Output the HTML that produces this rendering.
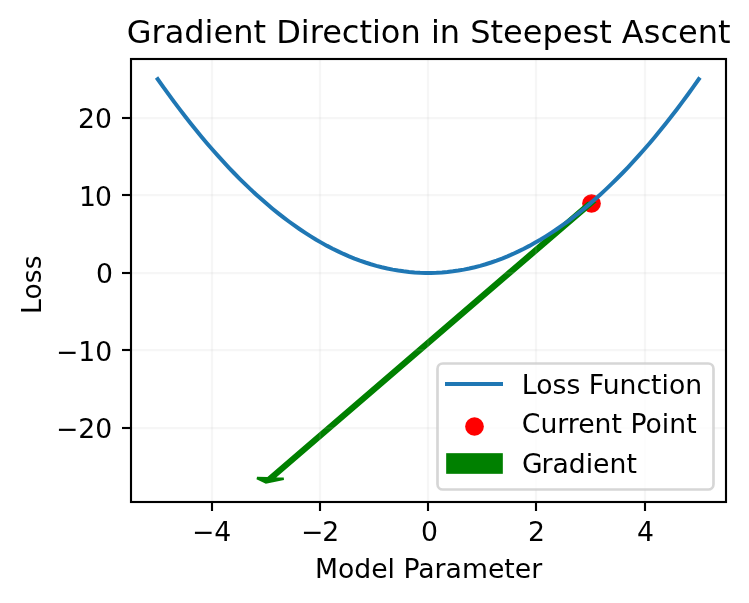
<!DOCTYPE html>
<html lang="en">
<head>
<meta charset="utf-8">
<title>Gradient Direction in Steepest Ascent</title>
<style>
  html, body { margin: 0; padding: 0; background: #ffffff; }
  body { width: 749px; height: 603px; overflow: hidden; }
  /* own compositing layer => grayscale (non-LCD) text antialiasing, like the Agg raster */
  svg { display: block; will-change: transform; mix-blend-mode: multiply; }
  svg text { font-family:'DejaVu Sans','Liberation Sans',sans-serif; }
</style>
</head>
<body>
<svg width="749" height="603" viewBox="0 0 749 603">
<rect x="0" y="0" width="749" height="603" fill="#ffffff"/>
<!-- current point -->
<circle cx="591.5" cy="203.5" r="9.33" fill="#ff0000"/>
<!-- gradient arrow -->
<polygon points="265.93,482.31 257.04,478.16 267.71,478.42 587.92,203.1 593.25,203.23 273.05,478.55 283.72,478.8" fill="#008000" stroke="#008000" stroke-width="2.67" stroke-linejoin="miter"/>
<!-- x axis: grid, ticks, labels -->
<line x1="212" y1="502" x2="212" y2="59" stroke="#b0b0b0" stroke-opacity="0.115" stroke-width="2.25"/>
<line x1="212" y1="502" x2="212" y2="511" stroke="#000000" stroke-width="2.13"/>
<text x="211.57" y="541" font-size="26.67" text-anchor="middle" fill="#000000">−4</text>
<line x1="320" y1="502" x2="320" y2="59" stroke="#b0b0b0" stroke-opacity="0.115" stroke-width="2.25"/>
<line x1="320" y1="502" x2="320" y2="511" stroke="#000000" stroke-width="2.13"/>
<text x="319.54" y="541" dx="0.5 -1" font-size="26.67" text-anchor="middle" fill="#000000">−2</text>
<line x1="428" y1="502" x2="428" y2="59" stroke="#b0b0b0" stroke-opacity="0.115" stroke-width="2.25"/>
<line x1="428" y1="502" x2="428" y2="511" stroke="#000000" stroke-width="2.13"/>
<text x="429.38" y="541" font-size="26.67" text-anchor="middle" fill="#000000">0</text>
<line x1="536" y1="502" x2="536" y2="59" stroke="#b0b0b0" stroke-opacity="0.115" stroke-width="2.25"/>
<line x1="536" y1="502" x2="536" y2="511" stroke="#000000" stroke-width="2.13"/>
<text x="536.48" y="541" font-size="26.67" text-anchor="middle" fill="#000000">2</text>
<line x1="645" y1="502" x2="645" y2="59" stroke="#b0b0b0" stroke-opacity="0.115" stroke-width="2.25"/>
<line x1="645" y1="502" x2="645" y2="511" stroke="#000000" stroke-width="2.13"/>
<text x="645.44" y="541" font-size="26.67" text-anchor="middle" fill="#000000">4</text>
<text x="428.51" y="578" font-size="26.67" text-anchor="middle" fill="#000000">Model Parameter</text>
<!-- y axis: grid, ticks, labels -->
<line x1="131" y1="428" x2="726" y2="428" stroke="#b0b0b0" stroke-opacity="0.115" stroke-width="2.25"/>
<line x1="122" y1="428" x2="131" y2="428" stroke="#000000" stroke-width="2.13"/>
<text x="112.24" y="438" font-size="26.67" text-anchor="end" fill="#000000">−20</text>
<line x1="131" y1="350" x2="726" y2="350" stroke="#b0b0b0" stroke-opacity="0.115" stroke-width="2.25"/>
<line x1="122" y1="350" x2="131" y2="350" stroke="#000000" stroke-width="2.13"/>
<text x="112.24" y="361" font-size="26.67" text-anchor="end" fill="#000000">−10</text>
<line x1="131" y1="273" x2="726" y2="273" stroke="#b0b0b0" stroke-opacity="0.115" stroke-width="2.25"/>
<line x1="122" y1="273" x2="131" y2="273" stroke="#000000" stroke-width="2.13"/>
<text x="112.87" y="283" font-size="26.67" text-anchor="end" fill="#000000">0</text>
<line x1="131" y1="195" x2="726" y2="195" stroke="#b0b0b0" stroke-opacity="0.115" stroke-width="2.25"/>
<line x1="122" y1="195" x2="131" y2="195" stroke="#000000" stroke-width="2.13"/>
<text x="111.87" y="206" dx="0 -1" font-size="26.67" text-anchor="end" fill="#000000">10</text>
<line x1="131" y1="118" x2="726" y2="118" stroke="#b0b0b0" stroke-opacity="0.115" stroke-width="2.25"/>
<line x1="122" y1="118" x2="131" y2="118" stroke="#000000" stroke-width="2.13"/>
<text x="111.87" y="128" font-size="26.67" text-anchor="end" fill="#000000">20</text>
<text x="41" y="284.71" font-size="26.67" text-anchor="middle" fill="#000000" transform="rotate(-90 41 284.71)">Loss</text>
<!-- loss curve -->
<polyline points="157.71,79.11 163.18,86.86 168.64,94.45 174.11,101.89 179.58,109.17 185.04,116.29 190.51,123.25 195.97,130.06 201.44,136.7 206.9,143.19 212.37,149.52 217.83,155.69 223.3,161.7 228.77,167.56 234.23,173.25 239.7,178.79 245.16,184.17 250.63,189.39 256.09,194.45 261.56,199.36 267.02,204.11 272.49,208.69 277.96,213.12 283.42,217.4 288.89,221.51 294.35,225.47 299.82,229.26 305.28,232.9 310.75,236.38 316.21,239.71 321.68,242.87 327.15,245.88 332.61,248.72 338.08,251.41 343.54,253.95 349.01,256.32 354.47,258.53 359.94,260.59 365.4,262.49 370.87,264.23 376.34,265.81 381.8,267.24 387.27,268.5 392.73,269.61 398.2,270.56 403.66,271.35 409.13,271.98 414.59,272.46 420.06,272.78 425.53,272.93 430.99,272.93 436.46,272.78 441.92,272.46 447.39,271.98 452.85,271.35 458.32,270.56 463.78,269.61 469.25,268.5 474.72,267.24 480.18,265.81 485.65,264.23 491.11,262.49 496.58,260.59 502.04,258.53 507.51,256.32 512.97,253.95 518.44,251.41 523.91,248.72 529.37,245.88 534.84,242.87 540.3,239.71 545.77,236.38 551.23,232.9 556.7,229.26 562.16,225.47 567.63,221.51 573.1,217.4 578.56,213.12 584.03,208.69 589.49,204.11 594.96,199.36 600.42,194.45 605.89,189.39 611.35,184.17 616.82,178.79 622.29,173.25 627.75,167.56 633.22,161.7 638.68,155.69 644.15,149.52 649.61,143.19 655.08,136.7 660.54,130.06 666.01,123.25 671.48,116.29 676.94,109.17 682.41,101.89 687.87,94.45 693.34,86.86 698.8,79.11" fill="none" stroke="#1f77b4" stroke-width="4" stroke-linecap="square" stroke-linejoin="round"/>
<!-- spines -->
<rect x="131" y="59" width="595" height="443" fill="none" stroke="#000000" stroke-width="2.13" stroke-linejoin="miter"/>
<!-- title -->
<text x="428.63" y="43" font-size="32" text-anchor="middle" fill="#000000">Gradient Direction in Steepest Ascent</text>
<!-- legend -->
<rect x="437.5" y="363.5" width="276" height="126" rx="5.33" ry="5.33" fill="#ffffff" fill-opacity="0.8" stroke="#cccccc" stroke-opacity="0.8" stroke-width="2.67"/>
<line x1="447" y1="384" x2="501" y2="384" stroke="#1f77b4" stroke-width="4" stroke-linecap="square"/>
<text x="521.85" y="394" font-size="26.67" text-anchor="start" fill="#000000">Loss Function</text>
<circle cx="474.5" cy="426.5" r="9.33" fill="#ff0000"/>
<text x="521.85" y="433" font-size="26.67" text-anchor="start" fill="#000000">Current Point</text>
<rect x="446.17" y="453.17" width="56.66" height="20.66" fill="#008000"/>
<text x="520.85" y="473" dx="1.25 -1.25" font-size="26.67" text-anchor="start" fill="#000000">Gradient</text>
</svg>
</body>
</html>
